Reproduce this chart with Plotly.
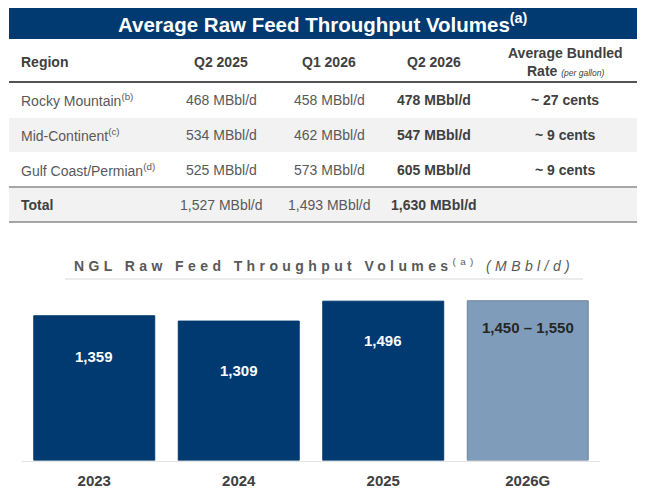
import plotly.graph_objects as go

# ---------------- data ----------------
table_title = "Average Raw Feed Throughput Volumes"
col_headers = ["Region", "Q2 2025", "Q1 2026", "Q2 2026"]
rate_header = ["Average Bundled", "Rate"]
regions = ["Rocky Mountain", "Mid-Continent", "Gulf Coast/Permian"]
region_notes = ["(b)", "(c)", "(d)"]
q2_2025 = [468, 534, 525]
q1_2026 = [458, 462, 573]
q2_2026 = [478, 547, 605]
rates = ["~ 27 cents", "~ 9 cents", "~ 9 cents"]
totals = [1527, 1493, 1630]

years = ["2023", "2024", "2025", "2026G"]
volumes = [1359, 1309, 1496, 1500]
bar_labels = ["1,359", "1,309", "1,496", "1,450 \u2013 1,550"]

# ---------------- style ----------------
W, H = 650, 494
OFF = 8  # page body margin
FONT = "Liberation Sans, Arial, sans-serif"
NAVY = "#003A70"
LIGHT = "#7F9DBA"
TXT = "#595959"
HDR = "#404040"
ROWBG = "#F2F2F2"
label_shift = [-41, -49, -39, -27]
label_color = ["white", "white", "white", "#262626"]
bar_colors = [NAVY, NAVY, NAVY, LIGHT]
bar_lines = [NAVY, NAVY, NAVY, "#6F8499"]


def px(x):
    return (x - OFF) / W


def py(y):
    return 1 - (y - OFF) / H


def fmt(v):
    return f"{v:,} MBbl/d"


shapes = []
annotations = []


def rect(x0, y0, x1, y1, color):
    shapes.append(dict(type="rect", xref="paper", yref="paper", x0=px(x0), x1=px(x1),
                       y0=py(y1), y1=py(y0), fillcolor=color, line=dict(width=0), layer="below"))


def hline(x0, x1, y, color, width):
    shapes.append(dict(type="line", xref="paper", yref="paper", x0=px(x0), x1=px(x1),
                       y0=py(y), y1=py(y), line=dict(color=color, width=width)))


def text(x, y, s, size=14, color=TXT, xanchor="center", bold=False):
    if bold:
        s = f"<b>{s}</b>"
    annotations.append(dict(xref="paper", yref="paper", x=px(x), y=py(y), text=s,
                            showarrow=False, xanchor=xanchor, yanchor="middle",
                            font=dict(family=FONT, size=size, color=color)))


# table header bar
rect(9, 7, 637, 39, NAVY)
text(323, 23, f"{table_title}<sup>(a)</sup>", size=20.5, color="white", bold=True)

# column headers
col_x = [221, 329, 434]
text(19, 62, col_headers[0], color=HDR, xanchor="left", bold=True)
for cx, h in zip(col_x, col_headers[1:]):
    text(cx, 62, h, color=HDR, bold=True)
text(565, 53, rate_header[0], color=HDR, bold=True)
text(565, 71, f"<b>{rate_header[1]}</b> <i><span style='font-size:8.5px'>(per gallon)</span></i>",
     color=HDR)
hline(9, 637, 82, "#1A1A1A", 1.5)

# rows
row_y = [100, 135, 170]
rect(9, 118, 637, 152, ROWBG)
for i, ry in enumerate(row_y):
    text(19, ry, f"{regions[i]}<sup>{region_notes[i]}</sup>", xanchor="left")
    text(col_x[0], ry, fmt(q2_2025[i]))
    text(col_x[1], ry, fmt(q1_2026[i]))
    text(col_x[2], ry, fmt(q2_2026[i]), color=HDR, bold=True)
    text(565, ry, rates[i], color=HDR, bold=True)

# total row
rect(9, 188, 637, 221, ROWBG)
hline(9, 637, 187, "#A6A6A6", 2)
hline(9, 637, 222, "#A6A6A6", 2)
text(19, 205, "Total", color=HDR, xanchor="left", bold=True)
text(col_x[0], 205, fmt(totals[0]))
text(col_x[1], 205, fmt(totals[1]))
text(col_x[2], 205, fmt(totals[2]), color=HDR, bold=True)

# chart title
annotations.append(dict(
    xref="paper", yref="paper", x=px(324), y=py(265), showarrow=False,
    xanchor="center", yanchor="middle",
    text="<span style='letter-spacing:4.4px'><b>NGL Raw Feed Throughput Volumes</b>"
         "<sup>(a)</sup> <i>(MBbl/d)</i></span>",
    font=dict(family=FONT, size=14, color=TXT)))
hline(65, 583, 279, "#D9D9D9", 1)

# bars
fig = go.Figure(go.Bar(
    x=years, y=volumes,
    marker=dict(color=bar_colors, line=dict(color=bar_lines, width=1)),
    hoverinfo="skip",
))

for i, (v, lab, sh, c) in enumerate(zip(volumes, bar_labels, label_shift, label_color)):
    annotations.append(dict(xref="x", yref="y", x=i, y=v, yshift=sh, text=f"<b>{lab}</b>",
                            showarrow=False, xanchor="center", yanchor="middle",
                            font=dict(family=FONT, size=15, color=c)))

base_px = 460.5
top_px = base_px - 1600 * 0.1065

fig.update_layout(
    width=W, height=H,
    margin=dict(l=0, r=0, t=0, b=0),
    paper_bgcolor="white", plot_bgcolor="white",
    showlegend=False,
    bargap=0.163,
    shapes=shapes,
    annotations=annotations,
    xaxis=dict(type="category", categoryorder="array", categoryarray=years,
               range=[-0.5, len(years) - 0.5],
               domain=[px(22), px(600)], showgrid=False, showline=True,
               linecolor="#E3E3E3", linewidth=1, ticks="", zeroline=False,
               ticklabelstandoff=6,
               tickfont=dict(family=FONT, size=15, color=HDR),
               tickprefix="<b>", ticksuffix="</b>", fixedrange=True),
    yaxis=dict(domain=[py(base_px), py(top_px)], range=[0, 1600], visible=False,
               fixedrange=True),
)

fig.write_html("out.html")
